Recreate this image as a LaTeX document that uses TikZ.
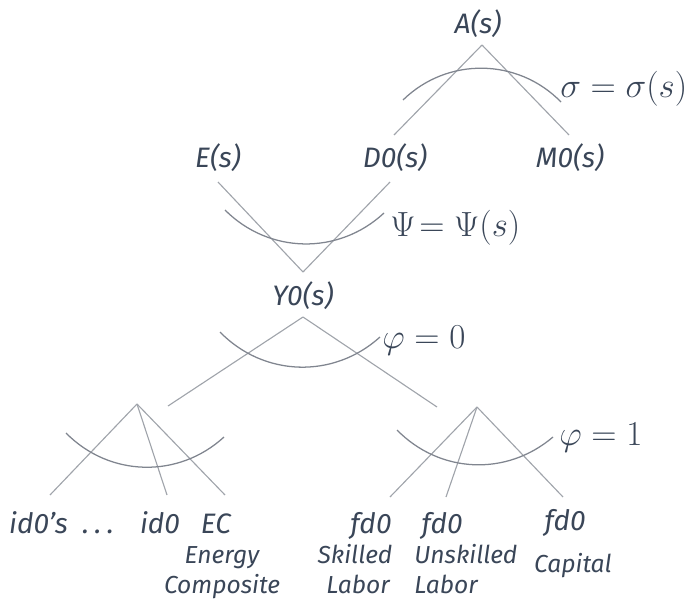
\documentclass[tikz,border=0pt]{standalone}
\usepackage{amsmath}
\usepackage[no-math]{fontspec}
\setmainfont{Fira Sans}
\usetikzlibrary{positioning}
\definecolor{inkslate}{RGB}{58,70,88}
\definecolor{linegray}{RGB}{160,164,171}
\definecolor{arcgray}{RGB}{128,133,143}

\begin{document}
\begin{tikzpicture}[x=0.025cm, y=-0.025cm,
    lbl/.style={font=\fontsize{20}{22}\selectfont\itshape, text=inkslate, inner sep=0pt, anchor=base},
    sublbl/.style={font=\fontsize{17.5}{20}\selectfont\itshape, text=inkslate, inner sep=0pt, anchor=base},
    elas/.style={font=\fontsize{23}{26}\selectfont, text=inkslate, inner sep=0pt, anchor=base west},
    link/.style={draw=linegray, line width=0.8pt},
    nest/.style={draw=arcgray, line width=0.9pt}]

    \useasboundingbox (0,0) rectangle (692,599);

    % Top nest: Armington
    \node[lbl] (A) at (478,33) {A(s)};
    \node[lbl] (D0) at (395,167) {D0(s)};
    \node[lbl] (M0) at (570,167) {M0(s)};
    \coordinate (Atip) at (482,45);
    \coordinate (D0top) at (394,135);
    \coordinate (M0top) at (569,135);
    \draw[link] (Atip) -- (D0top);
    \draw[link] (Atip) -- (M0top);
    \draw[nest] (403,100) to[bend left=45] (561,102);
    \node[elas] (sigma) at (560,97) {$\sigma = \sigma(s)$};

    % Second nest
    \node[lbl] (E) at (218,167) {E(s)};
    \coordinate (Ebot) at (218,182);
    \coordinate (D0bot) at (390,182);
    \coordinate (Y0tip) at (303,272);
    \draw[link] (Ebot) -- (Y0tip);
    \draw[link] (D0bot) -- (Y0tip);
    \draw[nest] (225,210) to[bend right=44] (384,213);
    \node[elas] (psi) at (390,236) {$\Psi\!= \Psi(s)$};

    % Output nest
    \node[lbl] (Y0) at (303,305) {Y0(s)};
    \coordinate (Y0bot) at (303,317);
    \coordinate (IDhead) at (168,406);
    \coordinate (FDhead) at (437,407);
    \draw[link] (Y0bot) -- (IDhead);
    \draw[link] (Y0bot) -- (FDhead);
    \draw[nest] (220,332) to[bend right=44] (380,337);
    \node[elas] (phiY) at (382,348) {$\varphi = 0$};

    % Intermediate inputs
    \coordinate (IDtip) at (137,404);
    \coordinate (id0sTop) at (50,495);
    \coordinate (id0Top) at (167,495);
    \coordinate (ECtop) at (225,495);
    \draw[link] (IDtip) -- (id0sTop);
    \draw[link] (IDtip) -- (id0Top);
    \draw[link] (IDtip) -- (ECtop);
    \draw[nest] (66,433) to[bend right=44] (224,437);
    \node[lbl] (id0s) at (38.5,533) {id0's};
    \node[lbl] (dots) at (98,533) {.\hspace{4pt}.\hspace{4pt}.};
    \node[lbl] (id0) at (160,533) {id0};
    \node[lbl] (EC) at (216,533) {EC};
    \node[sublbl] (ECa) at (222,563) {Energy};
    \node[sublbl] (ECb) at (222,593) {Composite};

    % Value added
    \coordinate (FDtip) at (477,407);
    \coordinate (fdSTop) at (390,497);
    \coordinate (fdUTop) at (446,497);
    \coordinate (fdKTop) at (563,497);
    \draw[link] (FDtip) -- (fdSTop);
    \draw[link] (FDtip) -- (fdUTop);
    \draw[link] (FDtip) -- (fdKTop);
    \draw[nest] (397,430) to[bend right=43] (553,437);
    \node[elas] (phiF) at (559,445) {$\varphi = 1$};
    \node[lbl] (fdS) at (371,533) {fd0};
    \node[lbl] (fdU) at (442,533) {fd0};
    \node[lbl] (fdK) at (565,530) {fd0};
    \node[sublbl] (fdSa) at (355,563) {Skilled};
    \node[sublbl] (fdSb) at (358,593) {Labor};
    \node[sublbl, anchor=base west] (fdUa) at (414,563) {Unskilled};
    \node[sublbl, anchor=base west] (fdUb) at (414,593) {Labor};
    \node[sublbl] (fdKa) at (573,572) {Capital};
\end{tikzpicture}
\end{document}
